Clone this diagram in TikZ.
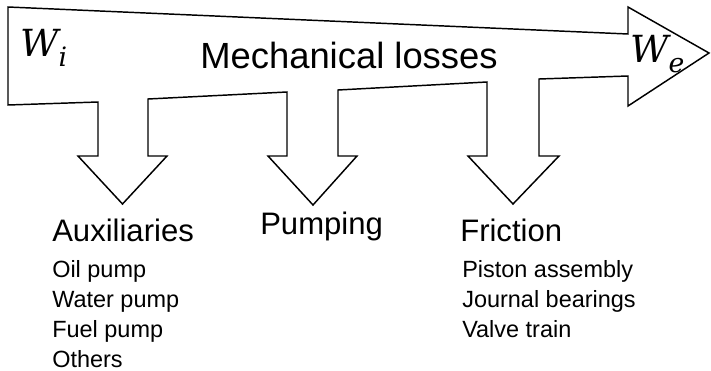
\documentclass[tikz,border=0pt]{standalone}
\usepackage{fontspec}
\setmainfont{Liberation Sans}
\newfontfamily\workfont{DejaVu Serif}
\newcommand{\work}[2]{{\workfont\itshape #1\raisebox{-8pt}{\fontsize{20}{22}\selectfont #2}}}
\usetikzlibrary{positioning}

\begin{document}
\begin{tikzpicture}[x=0.75pt,y=-0.75pt,
  flow/.style={draw=black,line width=1.1pt,fill=white,line join=miter},
  txt/.style={anchor=base west,inner sep=0pt},
  title/.style={txt,font=\fontsize{27.3}{32}\selectfont},
  group/.style={txt,font=\fontsize{23.3}{28}\selectfont},
  item/.style={txt,font=\fontsize{17.6}{21}\selectfont},
  wlabel/.style={txt,font=\fontsize{28}{33}\selectfont}]
\useasboundingbox (0,0) rectangle (711,371);

\coordinate (tipA) at (122.5,204);
\coordinate (tipP) at (313,205);
\coordinate (tipF) at (513,204);
\coordinate (tipE) at (709,53);

\draw[flow] (8,7) -- (628,34) -- (628,7) -- (tipE) -- (628,106) -- (628,76)
  -- (539,79) -- (539,156) -- (559,156) -- (tipF) -- (468,156) -- (487,156)
  -- (487,82) -- (338,90) -- (338,156) -- (357,156) -- (tipP) -- (268,156)
  -- (287,156) -- (287,92) -- (148,99) -- (148,156) -- (167,156) -- (tipA)
  -- (78,156) -- (98,156) -- (98,102) -- (8,105) -- cycle;

\node[wlabel] (Wi) at (20,56) {\work{W}{i}};
\node[wlabel] (We) at (630,62) {\work{W}{e}};
\node[title] (loss) at (200,68) {Mechanical losses};

\node[group] (aux) at (52,241) {Auxiliaries};
\node[group] (pump) at (260,234) {Pumping};
\node[group] (fric) at (460,241) {Friction};

\node[item] (oil) at (52,277) {Oil pump};
\node[item] (water) at (52,307) {Water pump};
\node[item] (fuel) at (52,337) {Fuel pump};
\node[item] (others) at (52,367) {Others};

\node[item] (piston) at (462,277) {Piston assembly};
\node[item] (journal) at (462,307) {Journal bearings};
\node[item] (valve) at (462,337) {Valve train};

\end{tikzpicture}
\end{document}
